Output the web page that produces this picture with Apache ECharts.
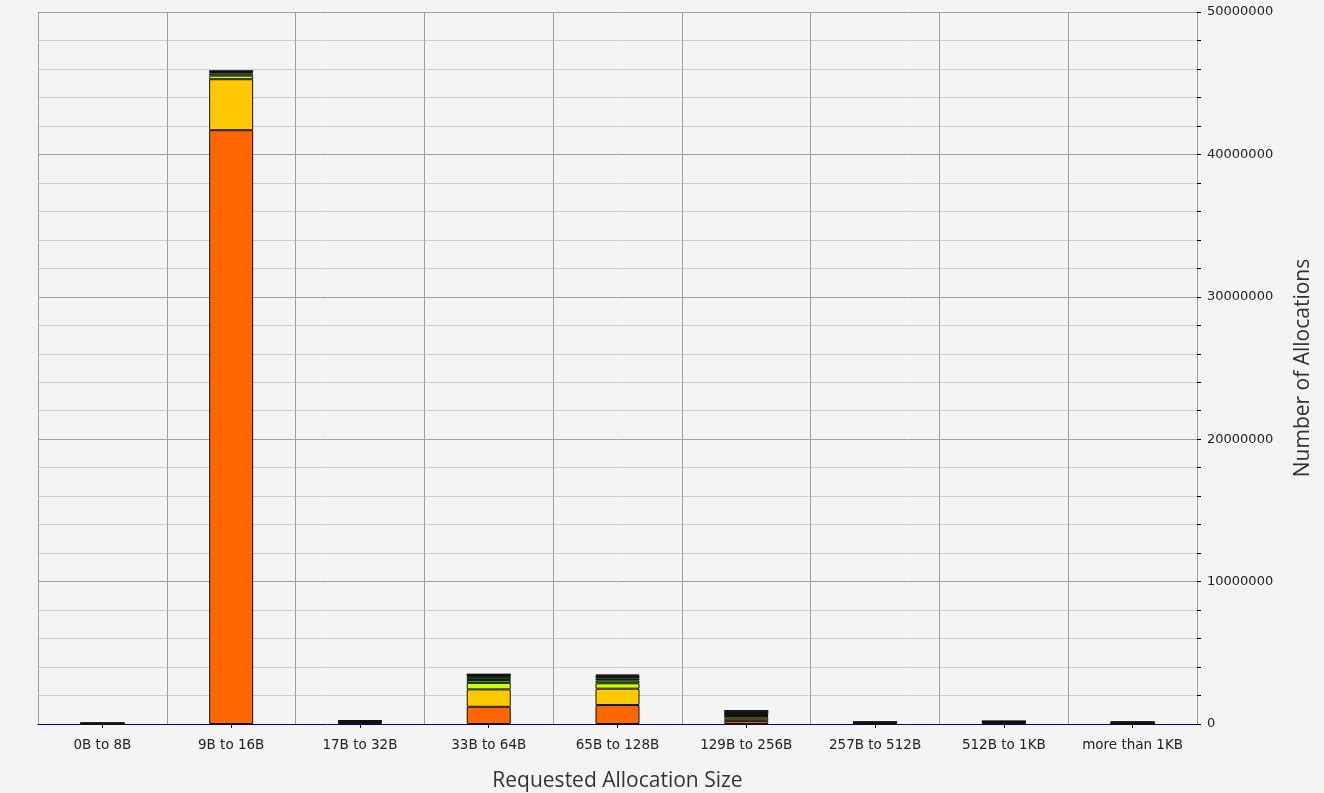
<!DOCTYPE html>
<html><head><meta charset="utf-8">
<script src="https://cdn.jsdelivr.net/npm/echarts@6/dist/echarts.min.js"></script>
<style>html,body{margin:0;padding:0;background:#f4f4f4}#c{width:1324px;height:793px}</style>
</head><body><div id="c"></div>
<script>
const categories = ['0B to 8B','9B to 16B','17B to 32B','33B to 64B','65B to 128B','129B to 256B','257B to 512B','512B to 1KB','more than 1KB'];
const seriesNames = ['s1','s2','s3','s4','s5','s6','s7'];
const seriesColors = ['#ff6600','#ffc800','#ccff00','#44bb00','#006600','#111111','#660000'];
const s1 = [5000, 41700000, 80000, 1210000, 1330000, 200000, 20000, 60000, 20000];
const s2 = [5000, 3580000, 60000, 1220000, 1150000, 170000, 20000, 50000, 20000];
const s3 = [3000, 250000, 30000, 460000, 380000, 150000, 10000, 20000, 10000];
const s4 = [2000, 150000, 15000, 200000, 200000, 40000, 10000, 15000, 10000];
const s5 = [2000, 100000, 15000, 200000, 150000, 40000, 10000, 15000, 10000];
const s6 = [60000, 80000, 40000, 200000, 200000, 330000, 80000, 40000, 80000];
const s7 = [0, 0, 0, 0, 50000, 0, 0, 0, 0];
const yTicks = {min: 0, max: 50000000, interval: 10000000};
const values = [s1, s2, s3, s4, s5, s6, s7];

const chart = echarts.init(document.getElementById('c'));
chart.setOption({
  backgroundColor: '#f4f4f4',
  animation: false,
  grid: {left: 38, right: 127, top: 12, bottom: 69, containLabel: false, outerBoundsMode: 'none'},
  xAxis: {
    type: 'category', data: categories,
    name: 'Requested Allocation Size', nameLocation: 'middle', nameGap: 47,
    nameTextStyle: {fontFamily: 'Open Sans', fontSize: 21, color: '#333'},
    axisLine: {lineStyle: {color: '#000099', width: 1}},
    axisTick: {show: true, interval: 0, alignWithLabel: true, length: 4, lineStyle: {color: '#000'}},
    axisLabel: {interval: 0, hideOverlap: false, fontFamily: 'DejaVu Sans', fontSize: 13.5, color: '#222', margin: 14},
    splitLine: {show: true, interval: 0, lineStyle: {color: '#a0a0a0', width: 1}}
  },
  yAxis: {
    type: 'value', position: 'right',
    min: yTicks.min, max: yTicks.max, interval: yTicks.interval,
    name: 'Number of Allocations', nameLocation: 'middle', nameGap: 96, nameRotate: 90,
    nameTextStyle: {fontFamily: 'Open Sans', fontSize: 21, color: '#333'},
    axisLine: {show: true, lineStyle: {color: '#a0a0a0'}},
    axisTick: {show: true, length: 4, lineStyle: {color: '#000'}},
    minorTick: {show: true, splitNumber: 5, length: 4, lineStyle: {color: '#000'}},
    axisLabel: {fontFamily: 'DejaVu Sans', fontSize: 13, color: '#222', margin: 10, formatter: v => String(v)},
    splitLine: {show: true, lineStyle: {color: '#a0a0a0'}},
    minorSplitLine: {show: true, lineStyle: {color: '#d0d0d0'}}
  },
  series: seriesNames.map((n, i) => ({
    name: n, type: 'bar', stack: 'total', barWidth: 44,
    data: values[i],
    itemStyle: {color: seriesColors[i], borderColor: '#111', borderWidth: 1}
  }))
});
</script></body></html>
